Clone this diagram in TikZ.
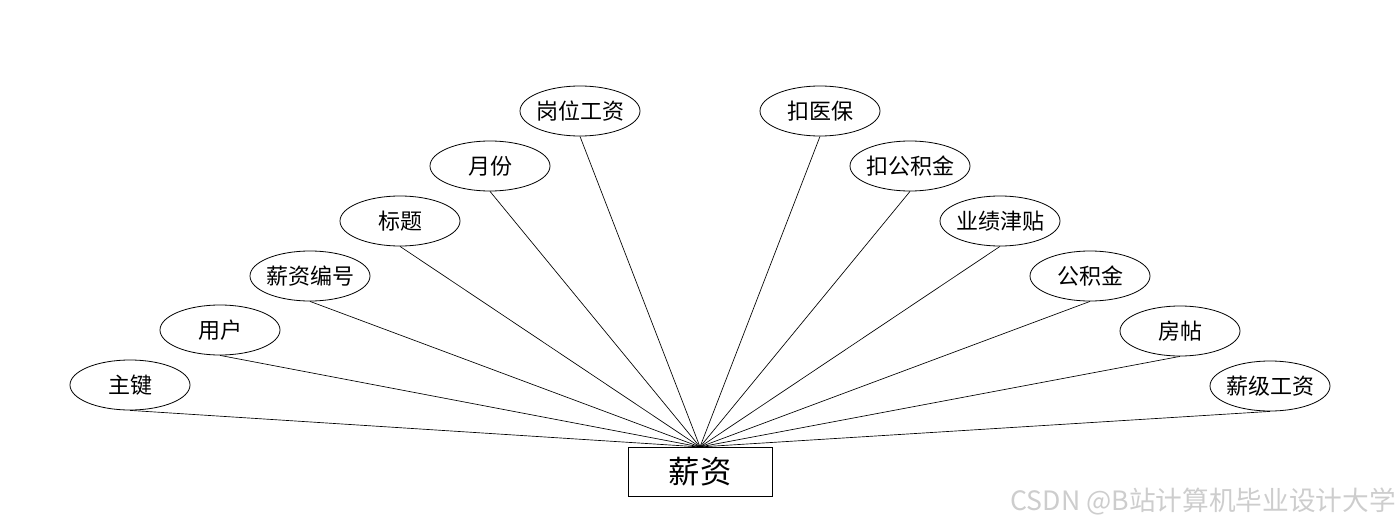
\documentclass[tikz,border=0pt]{standalone}
\usepackage{fontspec}
\usepackage{tikz}
\usetikzlibrary{shapes.geometric, positioning}
\newfontfamily\cjk{Noto Sans CJK SC}
\definecolor{mark}{RGB}{205,205,205}

\begin{document}
\begin{tikzpicture}[
    x=0.75pt, y=-0.75pt,
    attr/.style={ellipse, draw, line width=0.6pt, minimum width=90pt, minimum height=37.5pt, inner xsep=-4pt, inner ysep=0pt, font=\cjk\fontsize{16.5}{17}\selectfont},
    entity/.style={rectangle, draw, line width=0.6pt, minimum width=108pt, minimum height=37pt, inner sep=0pt, font=\cjk\fontsize{23.5}{24}\selectfont},
    link/.style={line width=0.5pt},
]
\useasboundingbox (0,0) rectangle (1400,528);
\node[entity] (xinzi)    at (700,472) {薪资};
% left side
\node[attr] (zhujian)    at (130,385) {主键};
\node[attr] (yonghu)     at (220,330) {用户};
\node[attr] (bianhao)    at (310,276) {薪资编号};
\node[attr] (biaoti)     at (400,221) {标题};
\node[attr] (yuefen)     at (490,166) {月份};
\node[attr] (gangwei)    at (580,111) {岗位工资};
% right side
\node[attr] (yibao)      at (820,111) {扣医保};
\node[attr] (kougjj)     at (910,166) {扣公积金};
\node[attr] (jintie)     at (1000,221) {业绩津贴};
\node[attr] (gjj)        at (1090,276) {公积金};
\node[attr] (fangtie)    at (1180,331) {房帖};
\node[attr] (xinji)      at (1270,386) {薪级工资};
\foreach \a in {zhujian, yonghu, bianhao, biaoti, yuefen, gangwei, yibao, kougjj, jintie, gjj, fangtie, xinji}
    \draw[link] (\a.south) -- (xinzi.north);
\node[anchor=east, text=mark, inner sep=0pt, font=\cjk\fontsize{20}{21}\selectfont] (wm) at (1396,501) {CSDN @B站计算机毕业设计大学};
\end{tikzpicture}
\end{document}
